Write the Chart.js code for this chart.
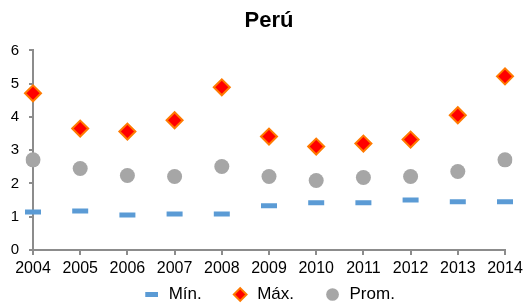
<!DOCTYPE html>
<html>
<head>
<meta charset="utf-8">
<script src="https://cdn.jsdelivr.net/npm/chart.js@4"></script>
<style>
  html, body { margin: 0; padding: 0; background: #fff; }
  #wrap { width: 523px; height: 303px; }
</style>
</head>
<body>
<div id="wrap"><canvas id="c"></canvas></div>
<script>
/* Perú: min / max / average per year. */
var YEARS = ["2004", "2005", "2006", "2007", "2008", "2009", "2010", "2011", "2012", "2013", "2014"];
var MIN_VALS = [1.14, 1.17, 1.05, 1.08, 1.08, 1.33, 1.42, 1.42, 1.50, 1.45, 1.45];
var MAX_VALS = [4.71, 3.65, 3.56, 3.90, 4.89, 3.41, 3.11, 3.20, 3.32, 4.05, 5.22];
var AVG_VALS = [2.71, 2.45, 2.24, 2.21, 2.51, 2.21, 2.09, 2.18, 2.21, 2.36, 2.71];
var Y_TICKS = [0, 1, 2, 3, 4, 5, 6];

var AXIS = "#8c8c8c";
var FONT = "'Liberation Sans', Arial, sans-serif";
var LEGEND_PAD = 30;

new Chart(document.getElementById("c"), {
  type: "line",
  data: {
    labels: YEARS,
    datasets: [
      { label: "Mín.", data: MIN_VALS, showLine: false, pointStyle: "line",
        pointRadius: 8, pointHoverRadius: 8, borderColor: "#5B9BD5", backgroundColor: "#5B9BD5",
        pointBorderWidth: 5, borderWidth: 3 },
      { label: "Máx.", data: MAX_VALS, showLine: false, pointStyle: "rectRot",
        pointRadius: 8, pointHoverRadius: 8, borderColor: "#FF7A00", backgroundColor: "#FF0000",
        pointBorderWidth: 2, borderWidth: 2 },
      { label: "Prom.", data: AVG_VALS, showLine: false, pointStyle: "circle",
        pointRadius: 7.5, pointHoverRadius: 7.5, borderColor: "#a6a6a6", backgroundColor: "#a6a6a6",
        pointBorderWidth: 0, borderWidth: 0 }
    ]
  },
  options: {
    responsive: true, maintainAspectRatio: false, animation: false,
    layout: { autoPadding: false, padding: { left: 11, right: 18, top: 0, bottom: 0 } },
    plugins: {
      title: { display: true, fullSize: false, text: "Perú", color: "#000",
        font: { family: FONT, size: 22, weight: "bold" }, padding: { top: 8, bottom: 16 } },
      // legend sits right under the plot; x labels are mirrored (negative padding) so they are not clipped
      legend: { position: "bottom", fullSize: false, maxHeight: LEGEND_PAD + 17,
        labels: { usePointStyle: true, color: "#000", boxHeight: 9, padding: LEGEND_PAD,
          font: { family: FONT, size: 17 } } },
      tooltip: { enabled: false }
    },
    scales: {
      x: {
        offset: false,
        afterFit: function (s) { s.height = 6; s.paddingLeft = 0; s.paddingRight = 0; },
        grid: { display: true, drawOnChartArea: false, drawTicks: true, tickLength: 5, color: AXIS, lineWidth: 2 },
        border: { display: true, color: AXIS, width: 2 },
        ticks: { color: "#000", mirror: true, font: { family: FONT, size: 16 }, padding: -28, maxRotation: 0, autoSkip: false }
      },
      y: {
        min: 0, max: 6,
        afterFit: function (s) { s.width = 22; },
        afterBuildTicks: function (axis) { axis.ticks = Y_TICKS.map(function (v) { return { value: v }; }); },
        grid: { display: true, drawOnChartArea: false, drawTicks: true, tickLength: 4, color: AXIS, lineWidth: 2 },
        border: { display: true, color: AXIS, width: 2 },
        ticks: { color: "#000", font: { family: FONT, size: 15 }, padding: 10 }
      }
    }
  }
});
</script>
</body>
</html>
